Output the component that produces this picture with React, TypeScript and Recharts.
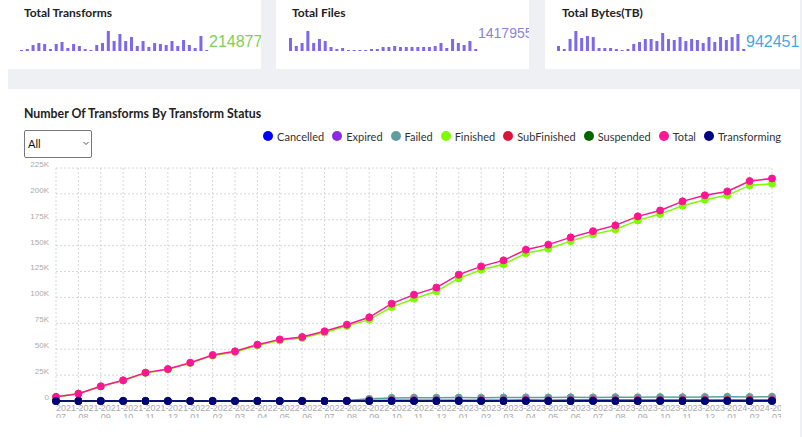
import { LineChart, Line, XAxis, YAxis, CartesianGrid, Legend, BarChart, Bar } from "recharts";

const months = [
  "2021-07", "2021-08", "2021-09", "2021-10", "2021-11", "2021-12",
  "2022-01", "2022-02", "2022-03", "2022-04", "2022-05", "2022-06",
  "2022-07", "2022-08", "2022-09", "2022-10", "2022-11", "2022-12",
  "2023-01", "2023-02", "2023-03", "2023-04", "2023-05", "2023-06",
  "2023-07", "2023-08", "2023-09", "2023-10", "2023-11", "2023-12",
  "2024-01", "2024-02", "2024-03",
];

const cancelled = Array(33).fill(0);
const expired = Array(33).fill(0);
const failed = [
  0, 0, 0, 0, 0, 0, 0, 0, 0, 0, 0, 0, 0,
  400, 2100, 3000, 3200, 3100, 3300, 3200, 3400, 3500, 3400, 3600, 3500,
  3700, 3600, 3800, 3700, 3900, 4000, 3900, 4100,
];
const finished = [
  3900, 7000, 14000, 19800, 27100, 30500, 36600, 43800, 47300, 53600, 58600,
  60800, 66200, 72400, 78600, 90700, 98800, 105900, 118400, 126800, 132000,
  142600, 147100, 154400, 160900, 165700, 174400, 180500, 188600, 194400,
  198600, 208200, 209800,
];
const subFinished = [
  0, 0, 0, 0, 0, 0, 0, 0, 0, 0, 0, 0, 0,
  200, 600, 700, 700, 800, 700, 800, 800, 900, 800, 900, 900,
  900, 1000, 900, 1000, 1000, 900, 1000, 900,
];
const suspended = Array(33).fill(0);
const total = [
  4000, 7100, 14200, 20000, 27400, 30900, 37000, 44400, 48000, 54400, 59500,
  61800, 67300, 73700, 80800, 94000, 102700, 109500, 122000, 130000, 135800,
  146100, 151000, 158000, 164000, 169600, 178300, 184000, 192800, 198600,
  202400, 212400, 214877,
];
const transforming = [
  0, 0, 0, 0, 0, 0, 0, 0, 0, 0, 0, 0, 0,
  100, 100, 200, 100, 100, 200, 100, 100, 200, 100, 100, 200,
  100, 100, 200, 100, 100, 200, 100, 200,
];

const yTicks = [0, 25000, 50000, 75000, 100000, 125000, 150000, 175000, 200000, 225000];

// monthly bars shown in the summary cards
const transformBars = [1, 2, 6, 8, 7, 2, 7, 9, 3, 7, 5, 2, 1, 6, 8, 20, 10, 17, 10, 14, 5, 10, 4, 8, 7, 6, 10, 5, 11, 6, 3, 15, 1];
const fileBars = [13, 5, 8, 20, 8, 12, 10, 4, 2, 3, 1, 1, 1, 1, 2, 2, 4, 4, 5, 4, 4, 4, 4, 4, 4, 5, 8, 3, 12, 8, 6, 10, 2];
const byteBars = [5, 2, 12, 20, 13, 15, 14, 3, 3, 3, 2, 1, 2, 7, 9, 12, 12, 10, 18, 12, 11, 14, 10, 12, 11, 8, 14, 9, 14, 11, 14, 17, 2];
const totalFiles = 1417955;
const totalBytes = 942451;

const STATUS = [
  { key: "Cancelled", color: "#0000FF", values: cancelled },
  { key: "Expired", color: "#8A2BE2", values: expired },
  { key: "Failed", color: "#5F9EA0", values: failed },
  { key: "Finished", color: "#7CFC00", values: finished },
  { key: "SubFinished", color: "#DC143C", values: subFinished },
  { key: "Suspended", color: "#006400", values: suspended },
  { key: "Total", color: "#FF1493", values: total },
  { key: "Transforming", color: "#000080", values: transforming },
];

const rows = months.map((month, i) => {
  const row: Record<string, any> = { month };
  STATUS.forEach((s) => (row[s.key] = s.values[i]));
  return row;
});

const AXIS_FONT = "'Liberation Sans', Arial, sans-serif";

function MonthTick({ x, y, payload }: any) {
  const [yr, mo] = String(payload.value).split("-");
  return (
    <text fill="#aaa" fontSize={9} fontFamily={AXIS_FONT}>
      <tspan x={x} y={y + 2}>{yr}-</tspan>
      <tspan x={x} y={y + 11}>{mo}</tspan>
    </text>
  );
}

function CountTick({ x, y, payload }: any) {
  const v = payload.value;
  return (
    <text x={x + 1} y={y - 4} dy="0.355em" textAnchor="end" fill="#aaa" fontSize={8} fontFamily={AXIS_FONT}>
      {v === 0 ? "0" : `${v / 1000}K`}
    </text>
  );
}

function StatusLegend({ payload }: any) {
  return (
    <div style={{ display: "flex", height: 20, alignItems: "center", justifyContent: "flex-end", fontSize: 11, color: "#333", fontFamily: "Lato" }}>
      {(payload || []).map((p: any) => (
        <span key={p.value} style={{ display: "flex", alignItems: "center", marginLeft: 8 }}>
          <span style={{ width: 10, height: 10, borderRadius: 5, background: p.color, marginRight: 4 }} />
          {p.value}
        </span>
      ))}
    </div>
  );
}

function Spark({ data, left }: { data: number[]; left: number }) {
  return (
    <div style={{ position: "absolute", left, top: 31 }}>
      <BarChart width={191} height={20} data={data.map((v) => ({ v }))} margin={{ top: 0, right: 0, bottom: 0, left: 0 }}>
        <XAxis hide />
        <YAxis hide domain={[0, "dataMax"]} />
        <Bar dataKey="v" fill="#7B68EE" barSize={3} isAnimationActive={false} />
      </BarChart>
    </div>
  );
}

function Card({ left, width, title, titleLeft, children }: any) {
  return (
    <div style={{ position: "absolute", left, top: 0, width, height: 69, background: "#fff", overflow: "hidden" }}>
      <div style={{ position: "absolute", left: titleLeft, top: 5, fontSize: 12, fontWeight: 700, color: "#222" }}>{title}</div>
      {children}
    </div>
  );
}

export default function App() {
  const num = (v: number, x: number, base: number, size: number, color: string) => (
    <div style={{ position: "absolute", left: x, top: base - size, fontSize: size, lineHeight: `${size * 1.15}px`, color, fontFamily: AXIS_FONT, whiteSpace: "nowrap" }}>
      {v}
    </div>
  );

  return (
    <div style={{ position: "absolute", left: 0, top: 0, width: 802, height: 437, background: "#eef0f4", overflow: "hidden", fontFamily: "Lato" }}>
      <div style={{ position: "absolute", left: 0, top: 0, width: 8, height: 437, background: "#fff" }} />

      <Card left={0} width={261} title="Total Transforms" titleLeft={24}>
        <Spark data={transformBars} left={19} />
        {num(total[total.length - 1], 209, 49, 16, "#7ed05a")}
      </Card>
      <Card left={276} width={253} title="Total Files" titleLeft={16}>
        <Spark data={fileBars} left={12} />
        {num(totalFiles, 202, 39, 14, "#8884d8")}
      </Card>
      <Card left={545} width={255} title="Total Bytes(TB)" titleLeft={17}>
        <Spark data={byteBars} left={11} />
        {num(totalBytes, 201, 49, 16, "#3fa9e6")}
      </Card>

      <div style={{ position: "absolute", left: 8, top: 89, width: 792, height: 348, background: "#fff" }} />

      <div style={{ position: "absolute", left: 24, top: 106, fontSize: 12.3, fontWeight: 700, color: "#222" }}>
        Number Of Transforms By Transform Status
      </div>

      <div style={{ position: "absolute", left: 24, top: 130, width: 66, height: 26, border: "1px solid #777", borderRadius: 2, background: "#fff", fontSize: 11, color: "#111" }}>
        <span style={{ position: "absolute", left: 3, top: 6 }}>All</span>
        <svg style={{ position: "absolute", left: 58, top: 10 }} width={6} height={5}>
          <polyline points="0.5,1 3,3.5 5.5,1" fill="none" stroke="#555" strokeWidth={1} />
        </svg>
      </div>

      <div style={{ position: "absolute", left: 0, top: 126 }}>
        <LineChart width={781} height={292} data={rows} margin={{ top: 22, right: 9, left: 0, bottom: 0 }}>
          <CartesianGrid stroke="#d6d6d6" strokeDasharray="2 2" />
          <XAxis dataKey="month" interval={0} height={17} axisLine={false} tickLine={false} tick={<MonthTick />} />
          <YAxis width={56} domain={[0, 225000]} ticks={yTicks} axisLine={false} tickLine={false} tick={<CountTick />} />
          <Legend verticalAlign="top" align="right" content={<StatusLegend />} wrapperStyle={{ top: 0, right: 0, left: "auto", width: "auto" }} />
          {STATUS.map((s) => (
            <Line
              key={s.key}
              dataKey={s.key}
              stroke={s.color}
              strokeWidth={1.5}
              dot={{ r: 3.5, fill: s.color, stroke: s.color, strokeWidth: 1 }}
              isAnimationActive={false}
            />
          ))}
        </LineChart>
      </div>
    </div>
  );
}
